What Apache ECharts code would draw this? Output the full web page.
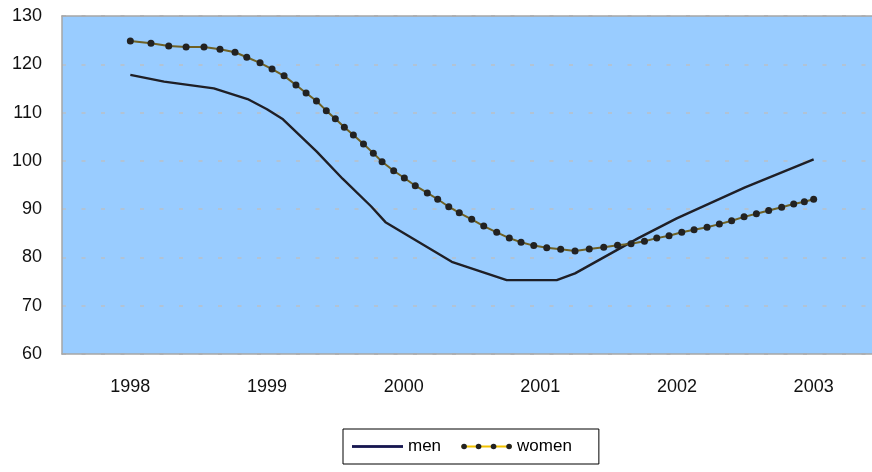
<!DOCTYPE html>
<html>
<head>
<meta charset="utf-8">
<script src="https://cdn.jsdelivr.net/npm/echarts@6/dist/echarts.min.js"></script>
<style>
html,body{margin:0;padding:0;background:#fff;}
#chart{width:872px;height:472px;}
</style>
</head>
<body>
<div id="chart"></div>
<script>
const yearLabels = [1998, 1999, 2000, 2001, 2002, 2003];

const menYears = [1998.0, 1998.247, 1998.611, 1998.858, 1999.0, 1999.117, 1999.364, 1999.553, 1999.761, 1999.867, 2000.352, 2000.754, 2001.12, 2001.254, 2001.717, 2001.998, 2002.498, 2003.0];
const menValues = [117.8, 116.4, 115.0, 112.8, 110.7, 108.6, 101.9, 96.3, 90.6, 87.3, 79.1, 75.3, 75.3, 76.7, 84.0, 88.1, 94.5, 100.3];

const womenYears = [1998.0, 1998.151, 1998.281, 1998.408, 1998.539, 1998.656, 1998.766, 1998.852, 1998.949, 1999.037,
  1999.125, 1999.212, 1999.286, 1999.362, 1999.434, 1999.5, 1999.566, 1999.632, 1999.706, 1999.778,
  1999.842, 1999.927, 2000.005, 2000.085, 2000.173, 2000.249, 2000.33, 2000.407, 2000.498, 2000.586,
  2000.681, 2000.773, 2000.859, 2000.952, 2001.047, 2001.149, 2001.254, 2001.358, 2001.464, 2001.565,
  2001.664, 2001.762, 2001.852, 2001.942, 2002.035, 2002.125, 2002.22, 2002.31, 2002.4, 2002.491,
  2002.581, 2002.671, 2002.766, 2002.854, 2002.932, 2003.0];
const womenValues = [124.8, 124.35, 123.8, 123.6, 123.6, 123.1, 122.5, 121.45, 120.3, 119.0,
  117.6, 115.7, 114.05, 112.4, 110.4, 108.7, 106.95, 105.35, 103.5, 101.6,
  99.8, 97.95, 96.45, 94.85, 93.35, 92.05, 90.5, 89.25, 87.9, 86.5,
  85.2, 84.0, 83.15, 82.45, 82.0, 81.7, 81.35, 81.75, 82.1, 82.5,
  82.85, 83.35, 84.0, 84.5, 85.2, 85.75, 86.25, 86.9, 87.6, 88.4,
  89.05, 89.7, 90.4, 91.05, 91.55, 92.05];

const seriesNames = ['men', 'women'];

const menData = menYears.map((y, i) => [y, menValues[i]]);
const womenData = womenYears.map((y, i) => [y, womenValues[i]]);

function svgIcon(svg) {
  return 'image://data:image/svg+xml;charset=utf-8,' + encodeURIComponent(svg);
}
const menIcon = svgIcon('<svg xmlns="http://www.w3.org/2000/svg" width="51" height="10"><rect x="0" y="3.6" width="51" height="2.8" fill="#16164f"/></svg>');
const womenIcon = svgIcon('<svg xmlns="http://www.w3.org/2000/svg" width="51" height="10"><rect x="0" y="4" width="51" height="2" fill="#f2c200"/><circle cx="3" cy="5" r="2.8" fill="#222"/><circle cx="17.5" cy="5" r="2.8" fill="#222"/><circle cx="32.5" cy="5" r="2.8" fill="#222"/><circle cx="48" cy="5" r="2.8" fill="#222"/></svg>');

const FONT = '"Liberation Sans", Arial, sans-serif';
const BORDER = {show: true, lineStyle: {color: '#a6a6a6', width: 1.5}};

const chart = echarts.init(document.getElementById('chart'), null, {renderer: 'canvas'});
chart.setOption({
  animation: false,
  backgroundColor: '#ffffff',
  textStyle: {fontFamily: FONT},
  grid: {
    left: 62, right: 0, top: 16, bottom: 118,
    show: true,
    backgroundColor: '#99ccff',
    borderWidth: 0
  },
  legend: {
    left: 343, top: 429,
    orient: 'horizontal',
    padding: [9, 27, 9, 9],
    itemGap: 20,
    itemWidth: 51,
    itemHeight: 10,
    borderColor: '#000',
    borderWidth: 1,
    textStyle: {fontFamily: FONT, fontSize: 17, color: '#000'},
    data: [
      {name: seriesNames[0], icon: menIcon},
      {name: seriesNames[1], icon: womenIcon}
    ]
  },
  xAxis: [
    {
      type: 'value',
      min: 1997.5,
      max: 2003.427,
      axisLine: BORDER,
      axisTick: {show: false},
      splitLine: {show: false},
      axisLabel: {
        customValues: yearLabels,
        margin: 24,
        fontFamily: FONT,
        fontSize: 18,
        color: '#111',
        formatter: v => String(v)
      }
    },
    {
      type: 'value',
      position: 'top',
      min: 1997.5,
      max: 2003.427,
      axisLine: BORDER,
      axisTick: {show: false},
      splitLine: {show: false},
      axisLabel: {show: false}
    }
  ],
  yAxis: {
    type: 'value',
    min: 60,
    max: 130,
    interval: 10,
    axisLine: BORDER,
    axisTick: {show: false},
    splitLine: {show: true, lineStyle: {color: '#b9c0c8', width: 1.5, type: [4, 15.5]}},
    axisLabel: {margin: 20, fontFamily: FONT, fontSize: 18, color: '#111'}
  },
  series: [
    {
      name: seriesNames[0],
      type: 'line',
      data: menData,
      showSymbol: false,
      symbol: 'none',
      color: '#16164f',
      lineStyle: {color: '#1f1f26', width: 2.4},
      z: 3
    },
    {
      name: seriesNames[1],
      type: 'line',
      data: womenData,
      symbol: 'circle',
      symbolSize: 7,
      showSymbol: true,
      color: '#222',
      itemStyle: {color: '#222', borderWidth: 0},
      lineStyle: {color: '#6f6124', width: 2},
      z: 4
    }
  ]
});
</script>
</body>
</html>
